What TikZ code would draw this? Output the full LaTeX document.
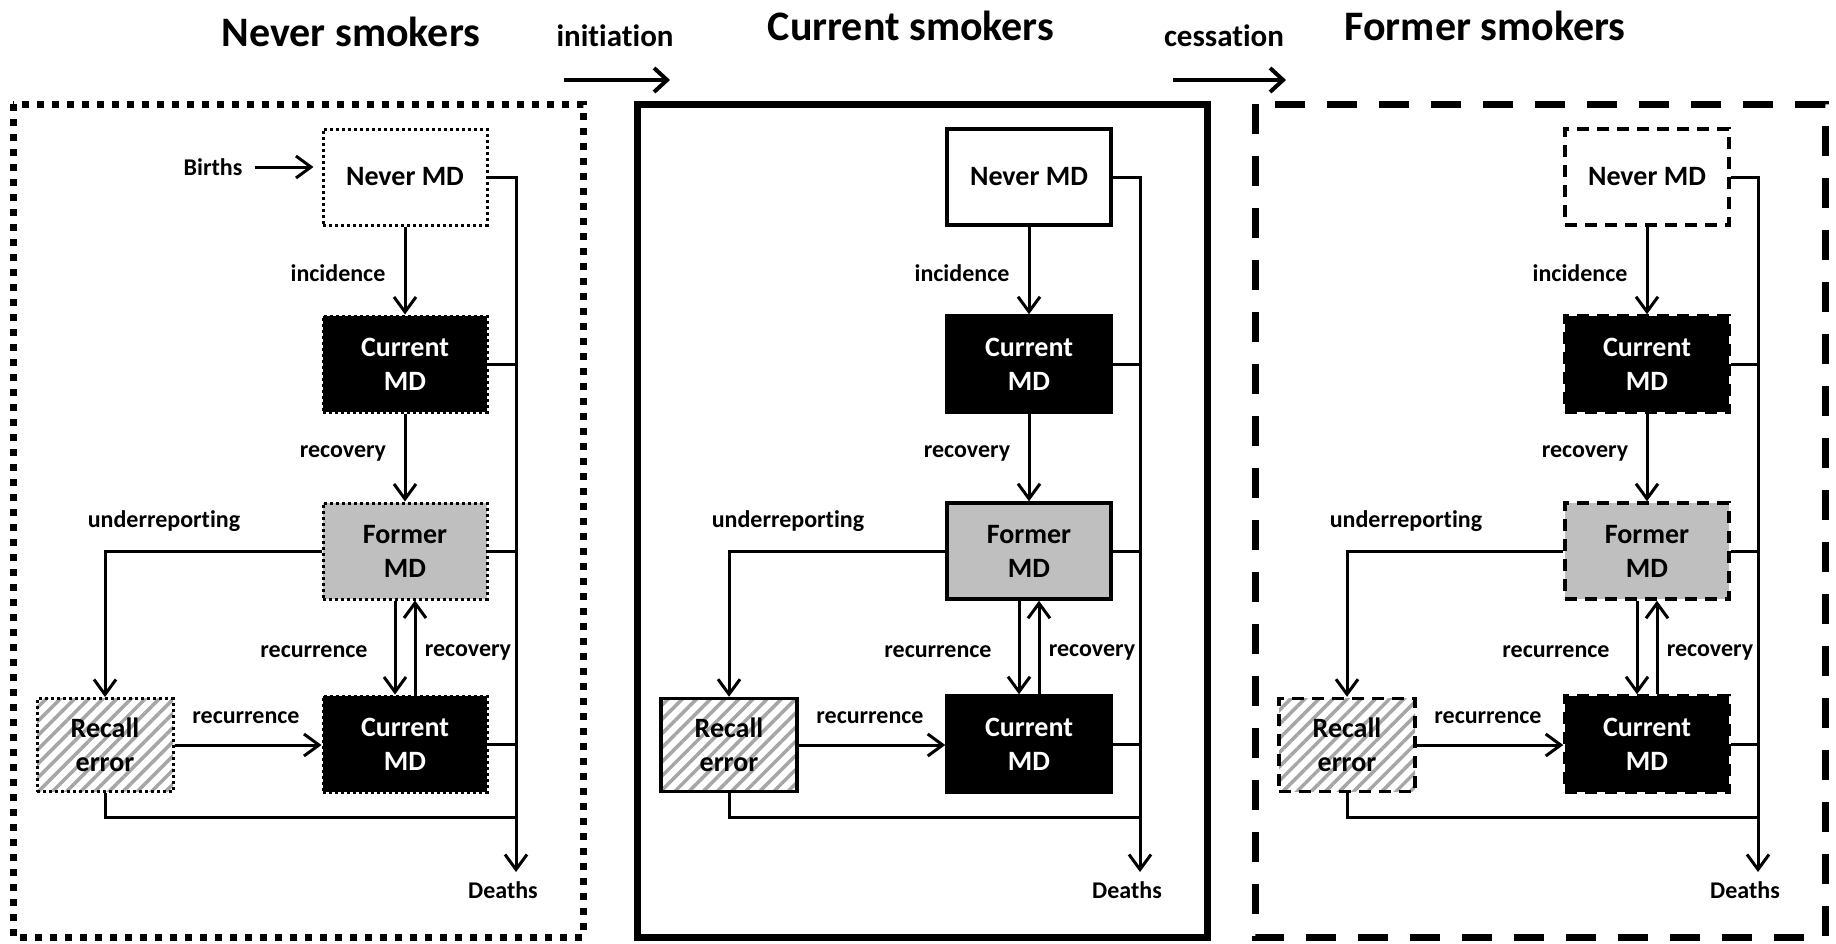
\documentclass[tikz,border=0pt]{standalone}
\usepackage{fontspec}
\setmainfont{Carlito}[Ligatures=NoCommon]
\usetikzlibrary{arrows.meta,patterns.meta}

\tikzset{
	every node/.style={font=\bfseries\fontsize{24}{28}\selectfont, inner sep=0pt},
	arr/.style={line width=3pt, -{Straight Barb[length=15pt,width=22pt]}},
	tarr/.style={line width=4pt, -{Straight Barb[length=13pt,width=24pt]}},
	lin/.style={line width=3pt},
	state/.style={minimum width=164pt, minimum height=96pt, align=center, font=\bfseries\fontsize{28}{34}\selectfont},
	nevbox/.style={state, fill=white},
	curbox/.style={state, fill=black, text=white},
	forbox/.style={state, fill=black!25},
	recbox/.style={state, minimum width=136pt, minimum height=93pt, preaction={solid, pattern={Lines[angle=45,distance=10pt,line width=3.5pt]}, pattern color=black!35}},
	boxdot/.style={draw, line width=3pt, dash pattern=on 3pt off 3pt},
	boxsolid/.style={draw, line width=3.5pt},
	boxdash/.style={draw, line width=3.5pt, dash pattern=on 12pt off 8pt},
	outerdot/.style={line width=7pt, dash pattern=on 7pt off 8pt},
	outersolid/.style={line width=7pt},
	outerdash/.style={line width=7pt, dash pattern=on 30pt off 22pt},
	title/.style={font=\bfseries\fontsize{42}{48}\selectfont},
	trans/.style={font=\bfseries\fontsize{31}{36}\selectfont}
}

\begin{document}
\begin{tikzpicture}[x=1pt, y=-1pt]
	\fill[white] (0,0) rectangle (1836,943);
	\useasboundingbox (0,0) rectangle (1836,943);

	% titles and transitions
	\node[title] (tnever) at (351, 32) {Never smokers};
	\node[title] (tcurrent) at (911, 26) {Current smokers};
	\node[title] (tformer) at (1485, 26) {Former smokers};
	\node[trans] (init) at (615, 36) {initiation};
	\node[trans] (cess) at (1224, 36) {cessation};
	\coordinate (ia) at (564, 80);
	\coordinate (ib) at (670, 80);
	\coordinate (ca) at (1173, 80);
	\coordinate (cb) at (1286, 80);
	\draw[tarr] (ia) -- (ib);
	\draw[tarr] (ca) -- (cb);

	% the three panels
	\foreach \i/\x/\frm/\bx in {1/0/outerdot/boxdot, 2/624/outersolid/boxsolid, 3/1242/outerdash/boxdash}{
		\draw[\frm] (\x+13, 104) rectangle (\x+583, 937);
		\node[nevbox, \bx] (never\i) at (\x+405, 177) {Never MD};
		\node[curbox, \bx] (cur\i) at (\x+405, 364) {Current\\MD};
		\node[forbox, \bx] (former\i) at (\x+405, 551) {Former\\MD};
		\node[curbox, \bx] (curb\i) at (\x+405, 744) {Current\\MD};
		\node[recbox, \bx] (recall\i) at (\x+105, 745) {Recall\\error};
		\coordinate (dend\i) at (\x+516, 872);
		\coordinate (bend\i) at (\x+516, 817);
		\node (inc\i) at (\x+338, 273) {incidence};
		\node (rec\i) at (\x+343, 453) {recovery};
		\node (under\i) at (\x+164, 521) {underreporting};
		\node (recur\i) at (\x+314, 652) {recurrence};
		\node (recov\i) at (\x+468, 652) {recovery};
		\node (recurh\i) at (\x+246, 718) {recurrence};
		\node (deaths\i) at (\x+503, 890) {Deaths};
		\draw[arr] (never\i) -- (cur\i);
		\draw[arr] (cur\i) -- (former\i);
		\draw[arr] ([xshift=-10pt]former\i.south) -- ([xshift=-10pt]curb\i.north);
		\draw[arr] ([xshift=10pt]curb\i.north) -- ([xshift=10pt]former\i.south);
		\draw[arr] (former\i.west) -| (recall\i.north);
		\draw[arr] (recall\i.east) -- (recall\i.east -| curb\i.west);
		\draw[arr] (never\i.east) -| (dend\i);
		\draw[lin] (cur\i.east) -- (cur\i.east -| dend\i);
		\draw[lin] (former\i.east) -- (former\i.east -| dend\i);
		\draw[lin] (curb\i.east) -- (curb\i.east -| dend\i);
		\draw[lin] (recall\i.south) |- (bend\i);
	}

	% births enter the first panel
	\node (births) at (213, 167) {Births};
	\draw[arr, shorten <=12pt, shorten >=8pt] (births.east) -- (births.east -| never1.west);
\end{tikzpicture}
\end{document}
